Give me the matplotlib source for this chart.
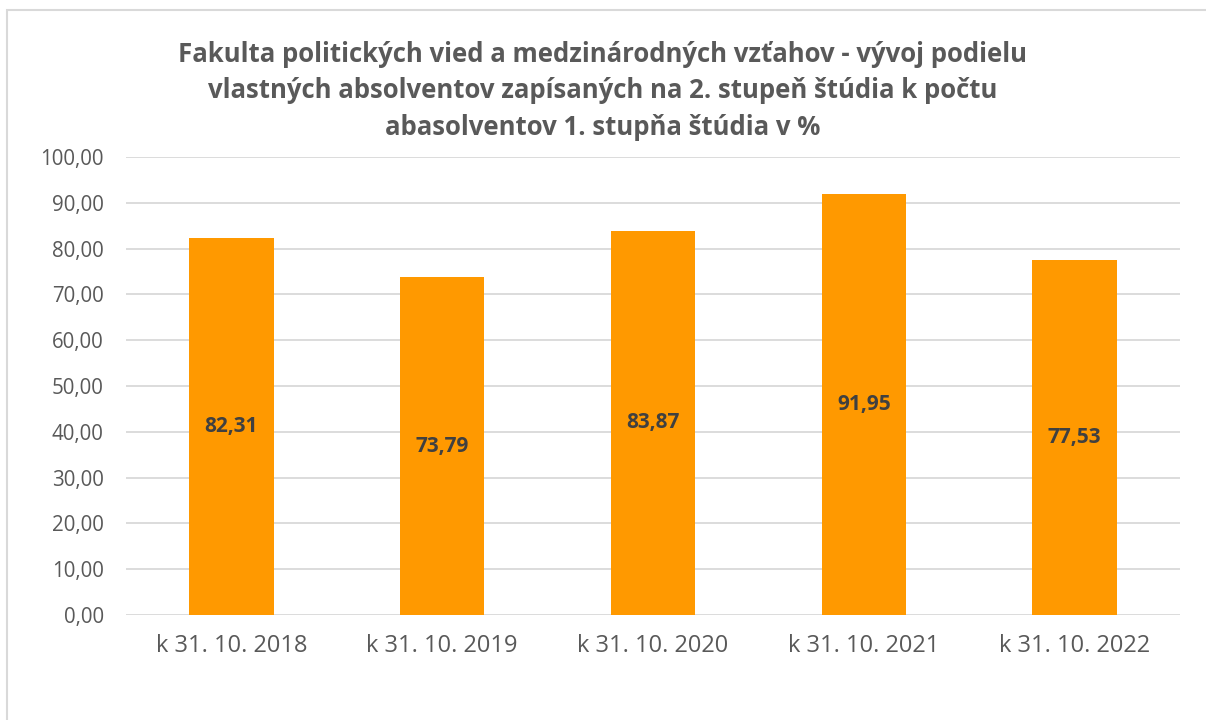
import matplotlib.pyplot as plt
from matplotlib.patches import Rectangle

categories = ['k 31. 10. 2018', 'k 31. 10. 2019', 'k 31. 10. 2020', 'k 31. 10. 2021', 'k 31. 10. 2022']
values = [82.31, 73.79, 83.87, 91.95, 77.53]
yticks = [0, 10, 20, 30, 40, 50, 60, 70, 80, 90, 100]

title = ('Fakulta politických vied a medzinárodných vzťahov - vývoj podielu\n'
         'vlastných absolventov zapísaných na 2. stupeň štúdia k počtu\n'
         'abasolventov 1. stupňa štúdia v %')

plt.rcParams['font.family'] = ['Open Sans', 'DejaVu Sans']

W, H = 1206, 720
fig = plt.figure(figsize=(W / 100, H / 100), dpi=100)

# chart frame like in excel
fig.patches.append(Rectangle((7 / W, -0.1), 1.2, 1 - 10 / H + 0.1, transform=fig.transFigure,
                             fill=False, edgecolor='#d9d9d9', linewidth=1.5))

ax = fig.add_axes([126 / W, 1 - 615 / H, (1180 - 126) / W, (615 - 157) / H])
x = range(len(categories))
bars = ax.bar(x, values, width=0.4, color='#ff9900', zorder=3)

for b, v in zip(bars, values):
    ax.text(b.get_x() + b.get_width() / 2, v / 2, f'{v:.2f}'.replace('.', ','),
            ha='center', va='center', fontsize=15, fontweight='bold', color='#404040', zorder=4)

ax.set_xlim(-0.5, len(categories) - 0.5)
ax.set_ylim(0, 100)
ax.set_yticks(yticks)
ax.set_yticklabels([f'{t:.2f}'.replace('.', ',') for t in yticks])
ax.set_xticks(list(x))
ax.set_xticklabels(categories)
ax.tick_params(axis='both', length=0, colors='#595959')
ax.tick_params(axis='x', pad=14, labelsize=17)
ax.tick_params(axis='y', pad=16, labelsize=14.8)
ax.grid(axis='y', color='#d9d9d9', linewidth=1.3, zorder=0)
for s in ax.spines.values():
    s.set_visible(False)

fig.text(603 / W, 1 - 91 / H, title, ha='center', va='center', fontsize=18.5,
         fontweight='bold', color='#595959', linespacing=1.47)

fig.savefig('out.png', dpi=100)
